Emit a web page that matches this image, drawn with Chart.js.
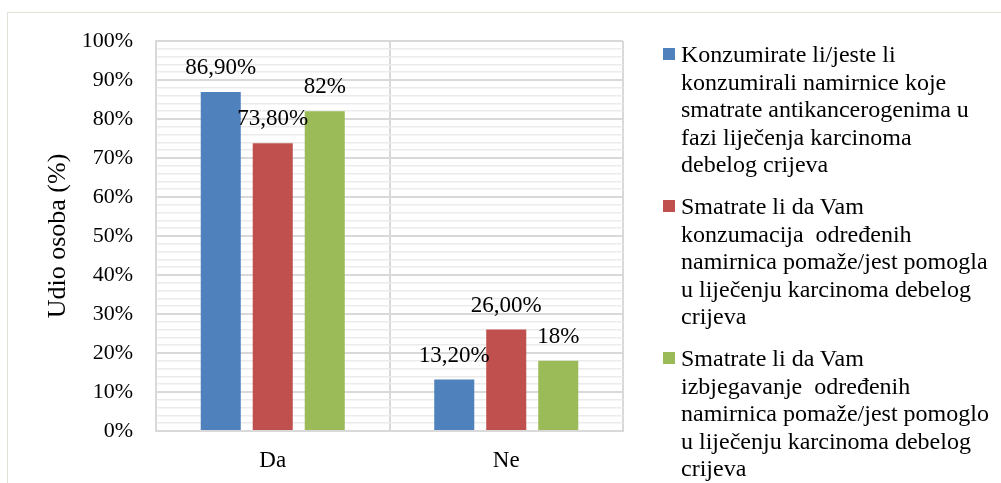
<!DOCTYPE html>
<html>
<head>
<meta charset="utf-8">
<script src="https://cdn.jsdelivr.net/npm/chart.js@4/dist/chart.umd.min.js"></script>
<style>
  html, body { margin: 0; padding: 0; background: #ffffff; }
  #wrap { position: relative; width: 1001px; height: 483px; overflow: hidden; }
  #frame { position: absolute; left: 7px; top: 12px; width: 1020px; height: 520px; border: 1px solid #e2dfd7; box-sizing: border-box; }
  canvas { position: absolute; left: 0; top: 0; }
  #legend { position: absolute; left: 663px; top: 41px; font-family: "Liberation Serif", "Times New Roman", serif; font-size: 24px; line-height: 27.5px; color: #000; }
  .item { position: relative; padding-left: 18px; margin-bottom: 14.5px; white-space: pre; }
  .sw { position: absolute; left: 0; top: 7px; width: 12px; height: 12px; }
</style>
</head>
<body>
<div id="wrap">
  <div id="frame"></div>
  <canvas id="c" width="1001" height="483"></canvas>
  <div id="legend"></div>
</div>
<script>
const categories = ["Da", "Ne"];
const seriesNames = [
  ["Konzumirate li/jeste li", "konzumirali namirnice koje", "smatrate antikancerogenima u", "fazi liječenja karcinoma", "debelog crijeva"],
  ["Smatrate li da Vam", "konzumacija  određenih", "namirnica pomaže/jest pomogla", "u liječenju karcinoma debelog", "crijeva"],
  ["Smatrate li da Vam", "izbjegavanje  određenih", "namirnica pomaže/jest pomoglo", "u liječenju karcinoma debelog", "crijeva"]
];
const seriesA = [86.9, 13.2];
const seriesB = [73.8, 26.0];
const seriesC = [82, 18];
const labelsA = ["86,90%", "13,20%"];
const labelsB = ["73,80%", "26,00%"];
const labelsC = ["82%", "18%"];
const colors = ["#4f81bd", "#c0504d", "#9bbb59"];
const yTicks = [0, 10, 20, 30, 40, 50, 60, 70, 80, 90, 100];

const allLabels = [labelsA, labelsB, labelsC];
const FONT = '"Liberation Serif", "Times New Roman", serif';

const dataLabelPlugin = {
  id: 'dataLabels',
  afterDatasetsDraw(chart) {
    const ctx = chart.ctx;
    ctx.save();
    ctx.font = '23px ' + FONT;
    ctx.fillStyle = '#000';
    ctx.textAlign = 'center';
    ctx.textBaseline = 'middle';
    chart.data.datasets.forEach((ds, i) => {
      const meta = chart.getDatasetMeta(i);
      meta.data.forEach((bar, j) => {
        ctx.fillText(allLabels[i][j], bar.x, bar.y - 24);
      });
    });
    ctx.restore();
  }
};

new Chart(document.getElementById('c'), {
  type: 'bar',
  data: {
    labels: categories,
    datasets: [
      { label: seriesNames[0].join(' '), data: seriesA, backgroundColor: colors[0] },
      { label: seriesNames[1].join(' '), data: seriesB, backgroundColor: colors[1] },
      { label: seriesNames[2].join(' '), data: seriesC, backgroundColor: colors[2] }
    ]
  },
  options: {
    responsive: false,
    animation: false,
    devicePixelRatio: 1,
    barPercentage: 0.77,
    categoryPercentage: 0.668,
    layout: { padding: { left: 0, right: 378, top: 41, bottom: 0 } },
    plugins: { legend: { display: false }, tooltip: { enabled: false } },
    scales: {
      x: {
        grid: { offset: true, color: '#d9d9d9', lineWidth: 2, drawTicks: false },
        border: { color: '#d9d9d9', width: 2 },
        ticks: { font: { family: FONT, size: 23 }, color: '#000', padding: 16 },
        afterFit(scale) { scale.height = 52; }
      },
      y: {
        min: 0, max: 100,
        ticks: {
          stepSize: 2,
          autoSkip: false,
          font: { family: FONT, size: 22 },
          color: '#000',
          padding: 23,
          callback: (v) => (yTicks.includes(v) ? v + '%' : '')
        },
        grid: {
          drawTicks: false,
          color: (c) => (c.tick && c.tick.value % 10 === 0 ? '#d9d9d9' : '#ebebeb'),
          lineWidth: (c) => (c.tick && c.tick.value % 10 === 0 ? 2 : 1.5)
        },
        border: { color: '#d9d9d9', width: 2 },
        title: {
          display: true,
          text: 'Udio osoba (%)',
          font: { family: FONT, size: 26 },
          color: '#000',
          padding: { top: 43, bottom: 0 }
        },
        afterFit(scale) { scale.width = 156; }
      }
    }
  },
  plugins: [dataLabelPlugin]
});

const legend = document.getElementById('legend');
seriesNames.forEach((lines, i) => {
  const item = document.createElement('div');
  item.className = 'item';
  const sw = document.createElement('span');
  sw.className = 'sw';
  sw.style.background = colors[i];
  item.appendChild(sw);
  const txt = document.createElement('span');
  txt.textContent = lines.join('\n');
  item.appendChild(txt);
  legend.appendChild(item);
});
</script>
</body>
</html>
